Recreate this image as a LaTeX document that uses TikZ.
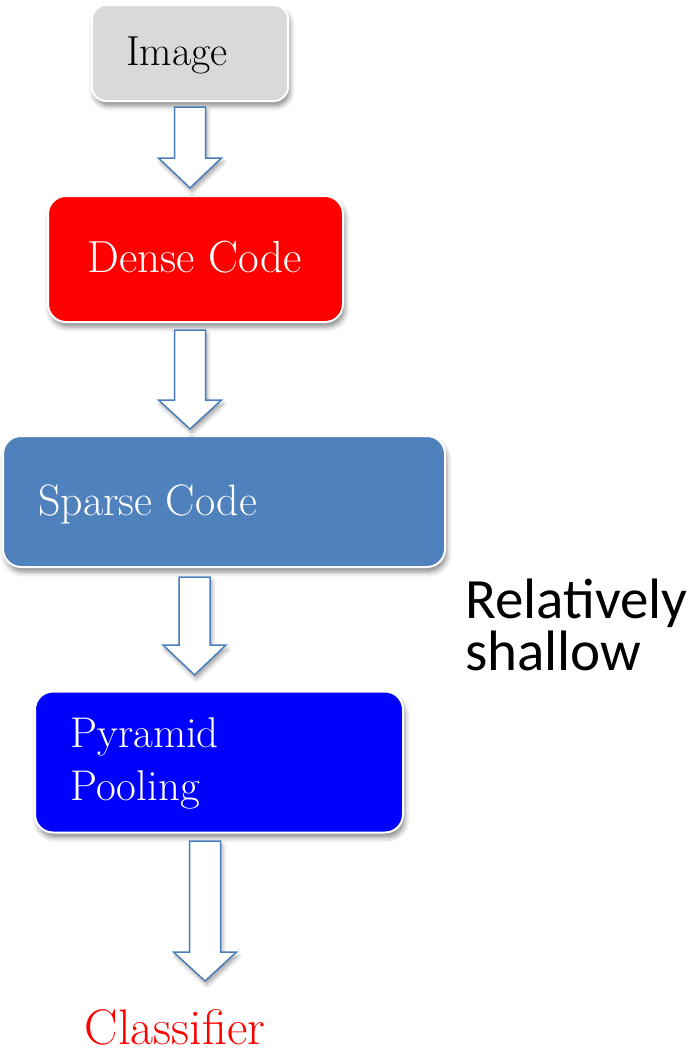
\documentclass[tikz,border=0pt]{standalone}
\usepackage{fontspec}
\newfontfamily\labelsans{Carlito}
\usetikzlibrary{shadows.blur}

\definecolor{boxgray}{HTML}{D9D9D9}
\definecolor{boxred}{HTML}{FF0000}
\definecolor{boxsteel}{HTML}{4F81BD}
\definecolor{boxblue}{HTML}{0000FF}
\definecolor{arrowline}{HTML}{4A7EBB}

% hollow block arrow: centre x, top of shaft, start of head, tip
\newcommand\blockarrow[4]{%
  \draw[blockarr] ({#1-15.5},#2) -- ({#1+15.5},#2) -- ({#1+15.5},#3)
    -- ({#1+31.5},#3) -- (#1,#4) -- ({#1-31.5},#3) -- ({#1-15.5},#3) -- cycle;}

\begin{document}
\begin{tikzpicture}[x=1pt,y=-1pt,
  stagebox/.style={rectangle, rounded corners=18pt, draw=white, line width=2pt,
    inner sep=0pt,
    blur shadow={shadow xshift=2pt, shadow yshift=-5pt, shadow blur radius=5pt, shadow opacity=45}},
  stagetext/.style={inner sep=0pt, anchor=base, font=\fontsize{43}{53}\selectfont},
  blockarr/.style={draw=arrowline, fill=white, line width=1.5pt, line join=miter,
    blur shadow={shadow xshift=2pt, shadow yshift=-4pt, shadow blur radius=4pt, shadow opacity=35}}]
\useasboundingbox (0,0) rectangle (697,1053);

% stage boxes
\node[stagebox, fill=boxgray, rounded corners=14pt, minimum width=196pt, minimum height=96pt] (img) at (190,53) {};
\node[stagebox, fill=boxred, minimum width=295pt, minimum height=126pt] (dense) at (195.5,259) {};
\node[stagebox, fill=boxsteel, minimum width=442pt, minimum height=131pt] (sparse) at (224,501.5) {};
\node[stagebox, fill=boxblue, minimum width=368pt, minimum height=141pt] (pool) at (219,762) {};

% box labels (multi-line labels are placed by their last baseline)
\node[stagetext, font=\fontsize{42}{53}\selectfont] (imgtxt) at (177,65) {Image};
\node[stagetext, text=white, font=\fontsize{45}{53}\selectfont] (densetxt) at (194.5,272) {Dense Code};
\node[stagetext, text=white, anchor=base west, font=\fontsize{44}{53}\selectfont] (sparsetxt) at (38,515) {Sparse Code};
\node[stagetext, text=white, anchor=base west, align=left] (pooltxt) at (70,800) {Pyramid\\Pooling};
\node[stagetext, text=boxred, font=\fontsize{50}{53}\selectfont] (clf) at (175,1044) {Classifier};

% side note
\node[inner sep=0pt, anchor=base west, align=left, font=\labelsans\fontsize{57}{52}\selectfont] (note) at (465,670) {Relatively\\shallow};

% flow arrows
\blockarrow{190}{107}{158}{188}
\blockarrow{190}{330}{400}{429}
\blockarrow{194.5}{577}{645}{675}
\blockarrow{205}{841}{952}{981}
\end{tikzpicture}
\end{document}
